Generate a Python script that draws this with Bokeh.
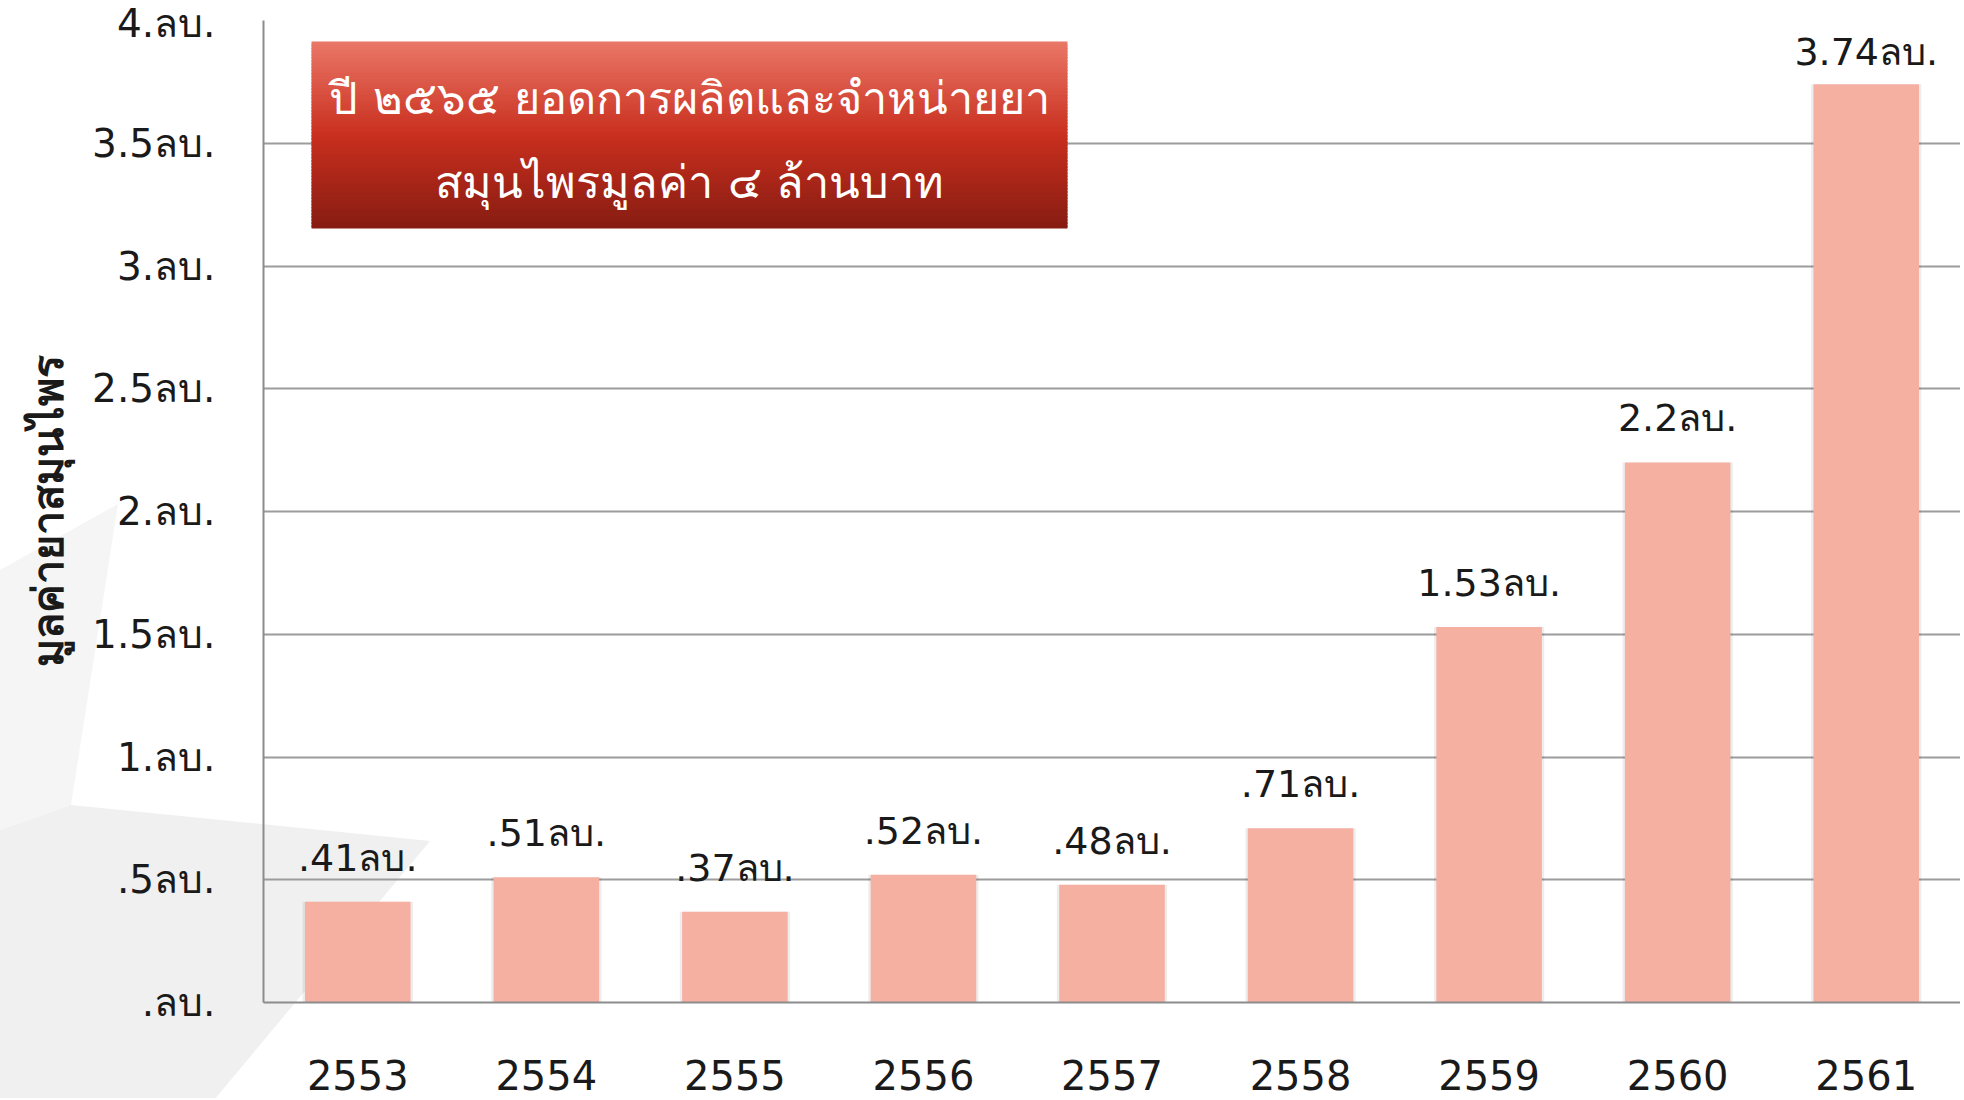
import numpy as np
from urllib.parse import quote
from bokeh.plotting import figure
from bokeh.models import ColumnDataSource, LabelSet, Label, BoxAnnotation, FixedTicker
from bokeh.core.properties import value
from bokeh.embed import file_html
from bokeh.resources import INLINE

years = ["2553", "2554", "2555", "2556", "2557", "2558", "2559", "2560", "2561"]
values = [0.41, 0.51, 0.37, 0.52, 0.48, 0.71, 1.53, 2.2, 3.74]
value_labels = [".41ลบ.", ".51ลบ.", ".37ลบ.", ".52ลบ.", ".48ลบ.", ".71ลบ.", "1.53ลบ.", "2.2ลบ.", "3.74ลบ."]
y_ticks = [0, 0.5, 1, 1.5, 2, 2.5, 3, 3.5, 4]
y_tick_labels = [".ลบ.", ".5ลบ.", "1.ลบ.", "1.5ลบ.", "2.ลบ.", "2.5ลบ.", "3.ลบ.", "3.5ลบ.", "4.ลบ."]
y_title = "มูลค่ายาสมุนไพร"
title_lines = ["ปี ๒๕๖๕ ยอดการผลิตและจำหน่ายยา", "สมุนไพรมูลค่า ๔ ล้านบาท"]

FONT = "DejaVu Sans"
W, H = 1960, 1098
FT, FB, FL = 20, 96, 263
frame_w = W - FL
frame_h = H - FT - FB
px_per_unit = frame_h / 4.0
px_per_cat = frame_w / len(years)


def sx(px):  # screen px (from page left) -> synthetic categorical x
    return (px - FL) / px_per_cat


def sy(py):  # screen px (from page top) -> data y
    return 4.0 - (py - FT) / px_per_unit


p = figure(x_range=years, y_range=(0, 4), width=W, height=H,
           output_backend="svg", toolbar_location=None,
           min_border_left=FL, min_border_right=0, min_border_top=FT, min_border_bottom=FB)
p.outline_line_color = None
p.background_fill_alpha = 0
p.border_fill_alpha = 0

# faint slide-background shapes behind the chart (decoration only)
bg_svg = (
    '<svg xmlns="http://www.w3.org/2000/svg" width="%d" height="%d">'
    '<rect width="100%%" height="100%%" fill="#ffffff"/>'
    '<polygon points="0,570 118,504 71,805 0,830" fill="#f5f5f5"/>'
    '<polygon points="0,830 71,805 430,841 214,1100 0,1100" fill="#f0f0f0"/>'
    '</svg>' % (W, H)
)
p.styles = {"background-image": "url(\"data:image/svg+xml;utf8,%s\")" % quote(bg_svg),
            "background-repeat": "no-repeat", "background-color": "white"}

p.ygrid.ticker = FixedTicker(ticks=y_ticks)
p.ygrid.grid_line_color = "#9c9c9c"
p.ygrid.grid_line_width = 2
p.xgrid.grid_line_color = None

yax = p.yaxis[0]
yax.ticker = FixedTicker(ticks=y_ticks)
yax.major_label_overrides = {t: l for t, l in zip(y_ticks, y_tick_labels)}
yax.major_tick_line_color = None
yax.minor_tick_line_color = None
yax.axis_line_color = "#8c8c8c"
yax.axis_line_width = 2
yax.major_label_text_font = FONT
yax.major_label_text_font_size = "39px"
yax.major_label_text_color = "#1a1a1a"
yax.major_label_standoff = 42
yax.axis_label = y_title
yax.axis_label_text_font = FONT
yax.axis_label_text_font_size = "43px"
yax.axis_label_text_font_style = "bold"
yax.axis_label_text_color = "#1a1a1a"
yax.axis_label_standoff = 16

xax = p.xaxis[0]
xax.major_tick_line_color = None
xax.minor_tick_line_color = None
xax.axis_line_color = "#8c8c8c"
xax.axis_line_width = 2
xax.major_label_text_font = FONT
xax.major_label_text_font_size = "40px"
xax.major_label_text_color = "#1a1a1a"
xax.major_label_standoff = 51

src = ColumnDataSource(dict(
    x=years, top=values, lab=value_labels,
    ly=np.minimum(np.array(values) + 44 / px_per_unit, 3.87)))

# soft shadow behind bars
p.vbar(x="x", top="top", width=0.585, bottom=-0.01, source=src,
       fill_color="#000000", fill_alpha=0.07, line_color=None)
p.vbar(x="x", top="top", width=0.56, bottom=0, source=src,
       fill_color="#f5b0a2", line_color=None)

labels = LabelSet(x="x", y="ly", text="lab", source=src, text_align="center",
                  text_baseline="middle", text_font=value(FONT), text_font_size="38px",
                  text_color="#1a1a1a")
p.add_layout(labels)

# title box with vertical gradient (decoration)
bx0, bx1, by0, by1 = sx(311), sx(1067), sy(228), sy(41)
stops = [(0.0, (234, 120, 104)), (0.5, (201, 47, 30)), (1.0, (134, 28, 18))]
n = 60
edges = np.linspace(by1, by0, n + 1)
for i in range(n):
    t = (i + 0.5) / n
    if t <= 0.5:
        a, b, f = stops[0][1], stops[1][1], t / 0.5
    else:
        a, b, f = stops[1][1], stops[2][1], (t - 0.5) / 0.5
    c = tuple(int(round(a[k] + (b[k] - a[k]) * f)) for k in range(3))
    bot = edges[i + 1] - (0.007 if i < n - 1 else 0.0)
    p.add_layout(BoxAnnotation(left=bx0, right=bx1, top=edges[i], bottom=bot,
                               fill_color="#%02x%02x%02x" % c, fill_alpha=1.0, line_color=None))

cx = (bx0 + bx1) / 2
for line, yy in zip(title_lines, [sy(98), sy(182)]):
    p.add_layout(Label(x=cx, y=yy, text=line, text_align="center", text_baseline="middle",
                       text_font=FONT, text_font_size="45px", text_color="white"))

open("out.html", "w").write(file_html(p, INLINE))
